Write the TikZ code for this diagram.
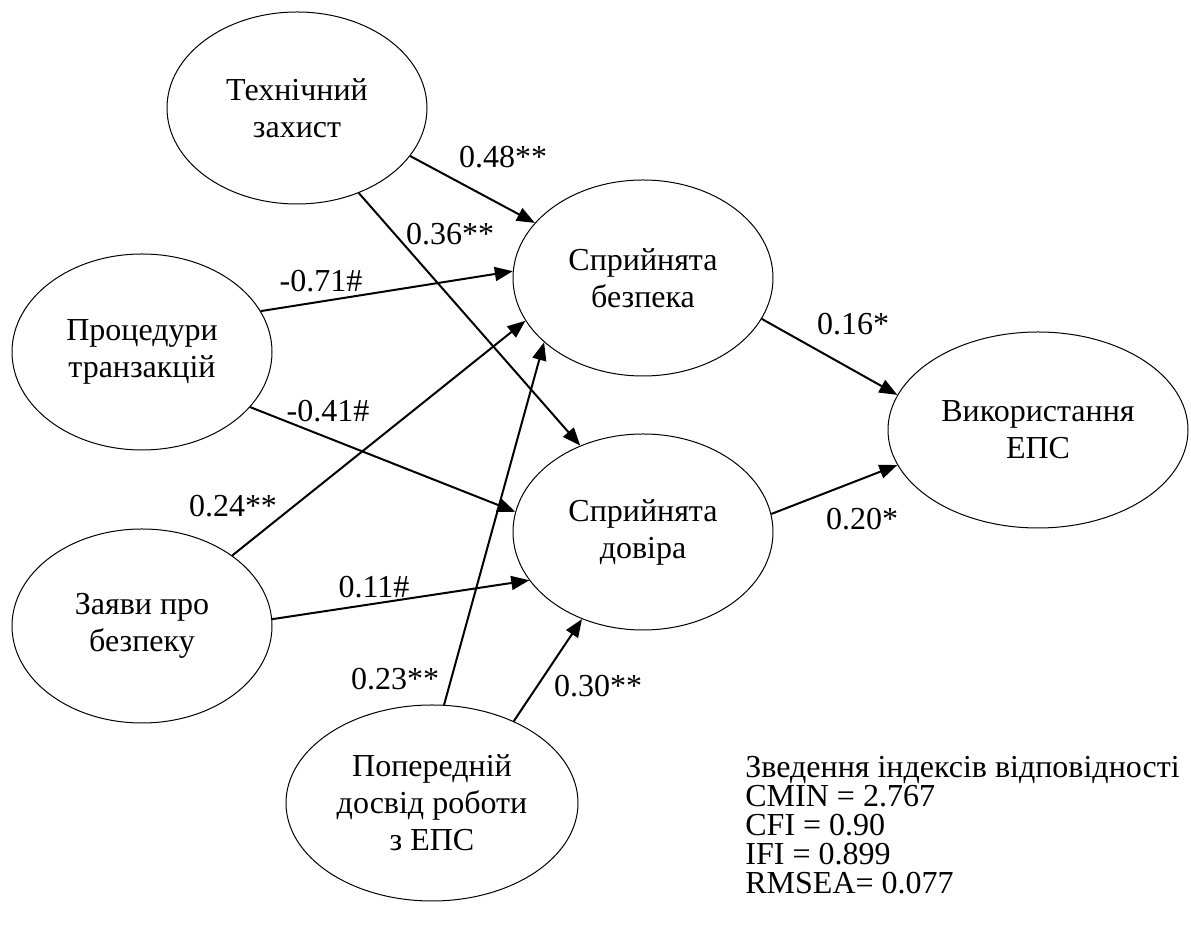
\documentclass[tikz,border=0pt]{standalone}
\usepackage{fontspec}
\setmainfont{Liberation Serif}
\usetikzlibrary{arrows.meta,shapes.geometric}

\tikzset{
  latent/.style={draw, ellipse, line width=0.5pt, inner sep=0pt, align=center,
    font=\fontsize{16}{18.5}\selectfont},
  path/.style={-{Triangle[length=9pt,width=7pt]}, line width=1pt},
  coef/.style={anchor=base, inner sep=0pt, font=\fontsize{16}{18}\selectfont}
}

\begin{document}
\begin{tikzpicture}[x=0.5pt,y=-0.5pt]
  % canvas: 1191 x 929 px, y runs downwards
  \useasboundingbox (0,0) rectangle (1191,929);
  % constructs
  \node[latent, minimum width=130pt, minimum height=96pt] (tech) at (297,108) {Технічний\\захист};
  \node[latent, minimum width=130pt, minimum height=98pt] (proc) at (142,352) {Процедури\\транзакцій};
  \node[latent, minimum width=130pt, minimum height=97pt] (claim) at (142,626) {Заяви про\\безпеку};
  \node[latent, minimum width=146pt, minimum height=98pt] (prior) at (432,803) {Попередній\\досвід роботи\\з ЕПС};
  \node[latent, minimum width=130pt, minimum height=98pt] (secur) at (643,278) {Сприйнята\\безпека};
  \node[latent, minimum width=130pt, minimum height=98pt] (trust) at (643,532) {Сприйнята\\довіра};
  \node[latent, minimum width=150pt, minimum height=98pt] (usage) at (1038,430) {Використання\\ЕПС};
  % paths: from.angle / to.angle
  \foreach \a/\p/\b/\q in {tech/-23.5/secur/153.4, tech/-54.5/trust/126.9,
      proc/19.7/secur/177.8, proc/-27.4/trust/171.7,
      claim/38/secur/200.9, claim/3.5/trust/203.9,
      prior/83.5/secur/213.7, prior/45/trust/235.3,
      secur/-19.4/usage/166.7, trust/8.4/usage/194}
    \draw[path] (\a.\p) -- (\b.\q);
  % path coefficients
  \foreach \n/\x/\y/\t in {c48/503/168/0.48**, c36/450/245/0.36**, c71/321/292/-0.71\#,
      c41/328/422/-0.41\#, c24/233/517/0.24**, c11/374/598/0.11\#,
      c23/395/690/0.23**, c30/598/697/0.30**, c16/853/335/0.16*, c20/862/530/0.20*}
    \node[coef] (\n) at (\x,\y) {\t};
  % fit indices
  \node[anchor=north west, inner sep=0pt, align=left, font=\fontsize{16}{14.5}\selectfont] (fit) at (745,756)
    {Зведення індексів відповідності\\CMIN = 2.767\\CFI = 0.90\\IFI = 0.899\\RMSEA= 0.077};
\end{tikzpicture}
\end{document}
